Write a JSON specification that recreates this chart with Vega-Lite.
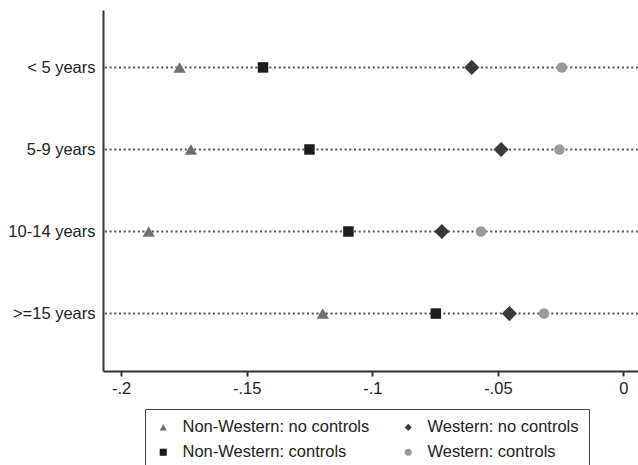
{
  "$schema": "https://vega.github.io/schema/vega-lite/v6.json",
  "autosize": "none",
  "padding": {"left": 103, "top": 10, "right": 0, "bottom": 94},
  "width": 535,
  "height": 361,
  "background": "white",
  "datasets": {
    "rows": [
      {"age": "< 5 years"},
      {"age": "5-9 years"},
      {"age": "10-14 years"},
      {"age": ">=15 years"}
    ],
    "points": [
      {"age": "< 5 years", "group": "Non-Western: no controls", "value": -0.1767},
      {"age": "< 5 years", "group": "Non-Western: controls", "value": -0.1435},
      {"age": "< 5 years", "group": "Western: no controls", "value": -0.0604},
      {"age": "< 5 years", "group": "Western: controls", "value": -0.0245},
      {"age": "5-9 years", "group": "Non-Western: no controls", "value": -0.1722},
      {"age": "5-9 years", "group": "Non-Western: controls", "value": -0.125},
      {"age": "5-9 years", "group": "Western: no controls", "value": -0.0487},
      {"age": "5-9 years", "group": "Western: controls", "value": -0.0255},
      {"age": "10-14 years", "group": "Non-Western: no controls", "value": -0.189},
      {"age": "10-14 years", "group": "Non-Western: controls", "value": -0.1095},
      {"age": "10-14 years", "group": "Western: no controls", "value": -0.0723},
      {"age": "10-14 years", "group": "Western: controls", "value": -0.0567},
      {"age": ">=15 years", "group": "Non-Western: no controls", "value": -0.1197},
      {"age": ">=15 years", "group": "Non-Western: controls", "value": -0.0747},
      {"age": ">=15 years", "group": "Western: no controls", "value": -0.0454},
      {"age": ">=15 years", "group": "Western: controls", "value": -0.0316}
    ]
  },
  "config": {
    "view": {"stroke": null},
    "axis": {
      "domainColor": "#333333",
      "domainWidth": 2,
      "tickColor": "#333333",
      "tickWidth": 2,
      "labelFont": "Liberation Sans",
      "labelFontSize": 16.5,
      "labelColor": "#222222",
      "grid": false,
      "title": null
    },
    "legend": {
      "labelFont": "Liberation Sans",
      "labelFontSize": 16.5,
      "labelColor": "#222222"
    }
  },
  "encoding": {
    "y": {
      "field": "age",
      "type": "nominal",
      "sort": ["< 5 years", "5-9 years", "10-14 years", ">=15 years"],
      "scale": {"type": "point", "padding": 0.7},
      "axis": {"ticks": false, "labelPadding": 8, "title": null}
    }
  },
  "layer": [
    {
      "data": {"name": "rows"},
      "mark": {"type": "rule", "color": "#555555", "strokeWidth": 2, "strokeDash": [2, 2.7]},
      "encoding": {}
    },
    {
      "data": {"name": "points"},
      "encoding": {
        "x": {
          "field": "value",
          "type": "quantitative",
          "scale": {"domain": [-0.2072, 0.0058], "nice": false, "zero": false},
          "axis": {
            "values": [-0.2, -0.15, -0.1, -0.05, 0],
            "tickSize": 5,
            "labelPadding": 4,
            "labelExpr": "datum.value == 0 ? '0' : replace(toString(datum.value), '0.', '.')",
            "title": null
          }
        },
        "shape": {
          "field": "group",
          "type": "nominal",
          "scale": {
            "domain": ["Non-Western: no controls", "Western: no controls", "Non-Western: controls", "Western: controls"],
            "range": ["triangle-up", "diamond", "square", "circle"]
          },
          "legend": {
            "title": null,
            "orient": "none",
            "legendX": 42,
            "legendY": 399,
            "direction": "horizontal",
            "columns": 2,
            "columnPadding": 30,
            "rowPadding": 8,
            "padding": 10,
            "strokeColor": "#444444",
            "labelOffset": 11,
            "labelLimit": 300,
            "symbolSize": 50
          }
        },
        "color": {
          "field": "group",
          "type": "nominal",
          "scale": {
            "domain": ["Non-Western: no controls", "Western: no controls", "Non-Western: controls", "Western: controls"],
            "range": ["#707070", "#3a3a3a", "#1c1c1c", "#9a9a9a"]
          }
        }
      },
      "layer": [
        {
          "transform": [{"filter": "datum.group == 'Non-Western: no controls'"}],
          "mark": {"type": "point", "filled": true, "opacity": 1, "size": 150}
        },
        {
          "transform": [{"filter": "datum.group == 'Non-Western: controls'"}],
          "mark": {"type": "point", "filled": true, "opacity": 1, "size": 110}
        },
        {
          "transform": [{"filter": "datum.group == 'Western: no controls'"}],
          "mark": {"type": "point", "filled": true, "opacity": 1, "size": 230}
        },
        {
          "transform": [{"filter": "datum.group == 'Western: controls'"}],
          "mark": {"type": "point", "filled": true, "opacity": 1, "size": 110}
        }
      ]
    }
  ]
}
